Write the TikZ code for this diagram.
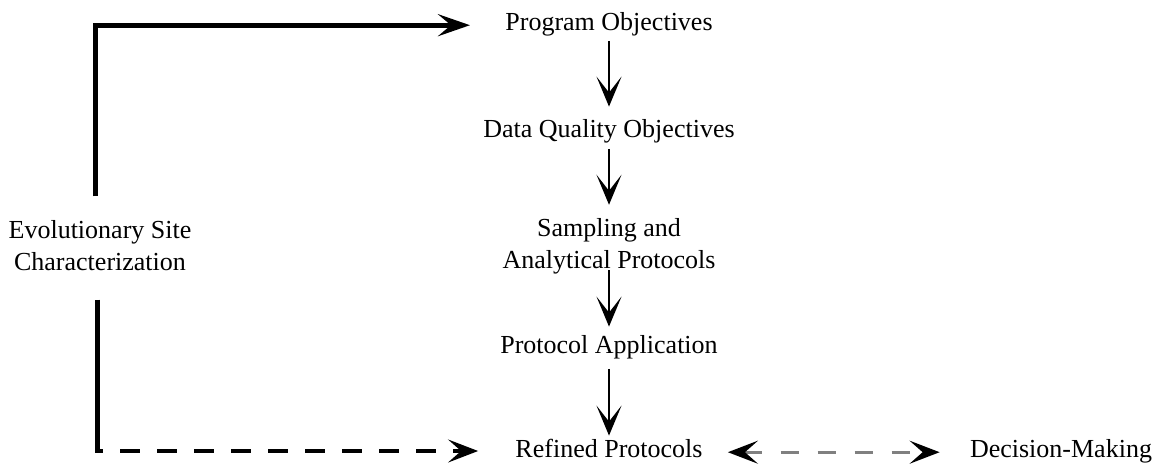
\documentclass[tikz,border=0pt]{standalone}
\usepackage{fontspec}
\setmainfont{Liberation Serif}
\usetikzlibrary{arrows.meta}
\begin{document}
\begin{tikzpicture}[x=0.5pt,y=-0.5pt,
every node/.style={%
inner sep=0pt,
anchor=base,
font=\fontsize{13}{16}\selectfont,
},
lbl/.style={text height=0.7em,text depth=0.22em},
txt/.style={align=center,anchor=center},
arw/.style={-{Stealth[length=15pt,width=12.5pt,inset=8pt]},line width=1.1pt},
thk/.style={line width=2.5pt},
thkarw/.style={-{Stealth[length=16pt,width=11pt,inset=6.5pt]},line width=2.5pt},
dsh/.style={-{Stealth[length=15pt,width=11.5pt,inset=6.5pt]},line width=1.8pt,dash pattern=on 10pt off 8.5pt,dash phase=7pt},
gry/.style={{Stealth[length=15pt,width=11.5pt,inset=6.5pt,black]}-{Stealth[length=15pt,width=11.5pt,inset=6.5pt,black]},draw=gray,line width=1.4pt,dash pattern=on 9pt off 9.5pt}
]
\useasboundingbox(0,0)rectangle(1159,466);
\node[lbl]at(609,30)(po){Program Objectives};
\node[lbl]at(609,137)(dqo){Data Quality Objectives};
\node[txt]at(609,246)(sap){Sampling and\\Analytical Protocols};
\node[lbl]at(609,353)(pa){Protocol Application};
\node[lbl]at(609,457)(rp){Refined Protocols};
\node[lbl]at(1061,457)(dm){Decision-Making};
\node[txt]at(100,246)(esc){Evolutionary Site\\Characterization};
\coordinate(bc)at(97,451);
\draw[arw,shorten <=3pt,shorten >=8pt](po)--(dqo);
\draw[arw,shorten <=3.5pt,shorten >=6.5pt](dqo)--(sap);
\draw[arw,shorten <=-2pt,shorten >=6pt](sap)--(pa);
\draw[arw,shorten <=5.5pt,shorten >=3.5pt](pa)--(rp);
\draw[thkarw,shorten <=12pt,shorten >=17.5pt]([xshift=-2.5pt]esc.north)|-(po.west);
\draw[thk,shorten <=14pt,shorten >=-0.9pt](esc.south-|bc)--(bc);
\draw[dsh,shorten >=18.5pt](bc)--(bc-|rp.west);
\draw[gry,shorten <=12.5pt,shorten >=15pt](rp.east)--(dm.west);
\end{tikzpicture}
\end{document}
